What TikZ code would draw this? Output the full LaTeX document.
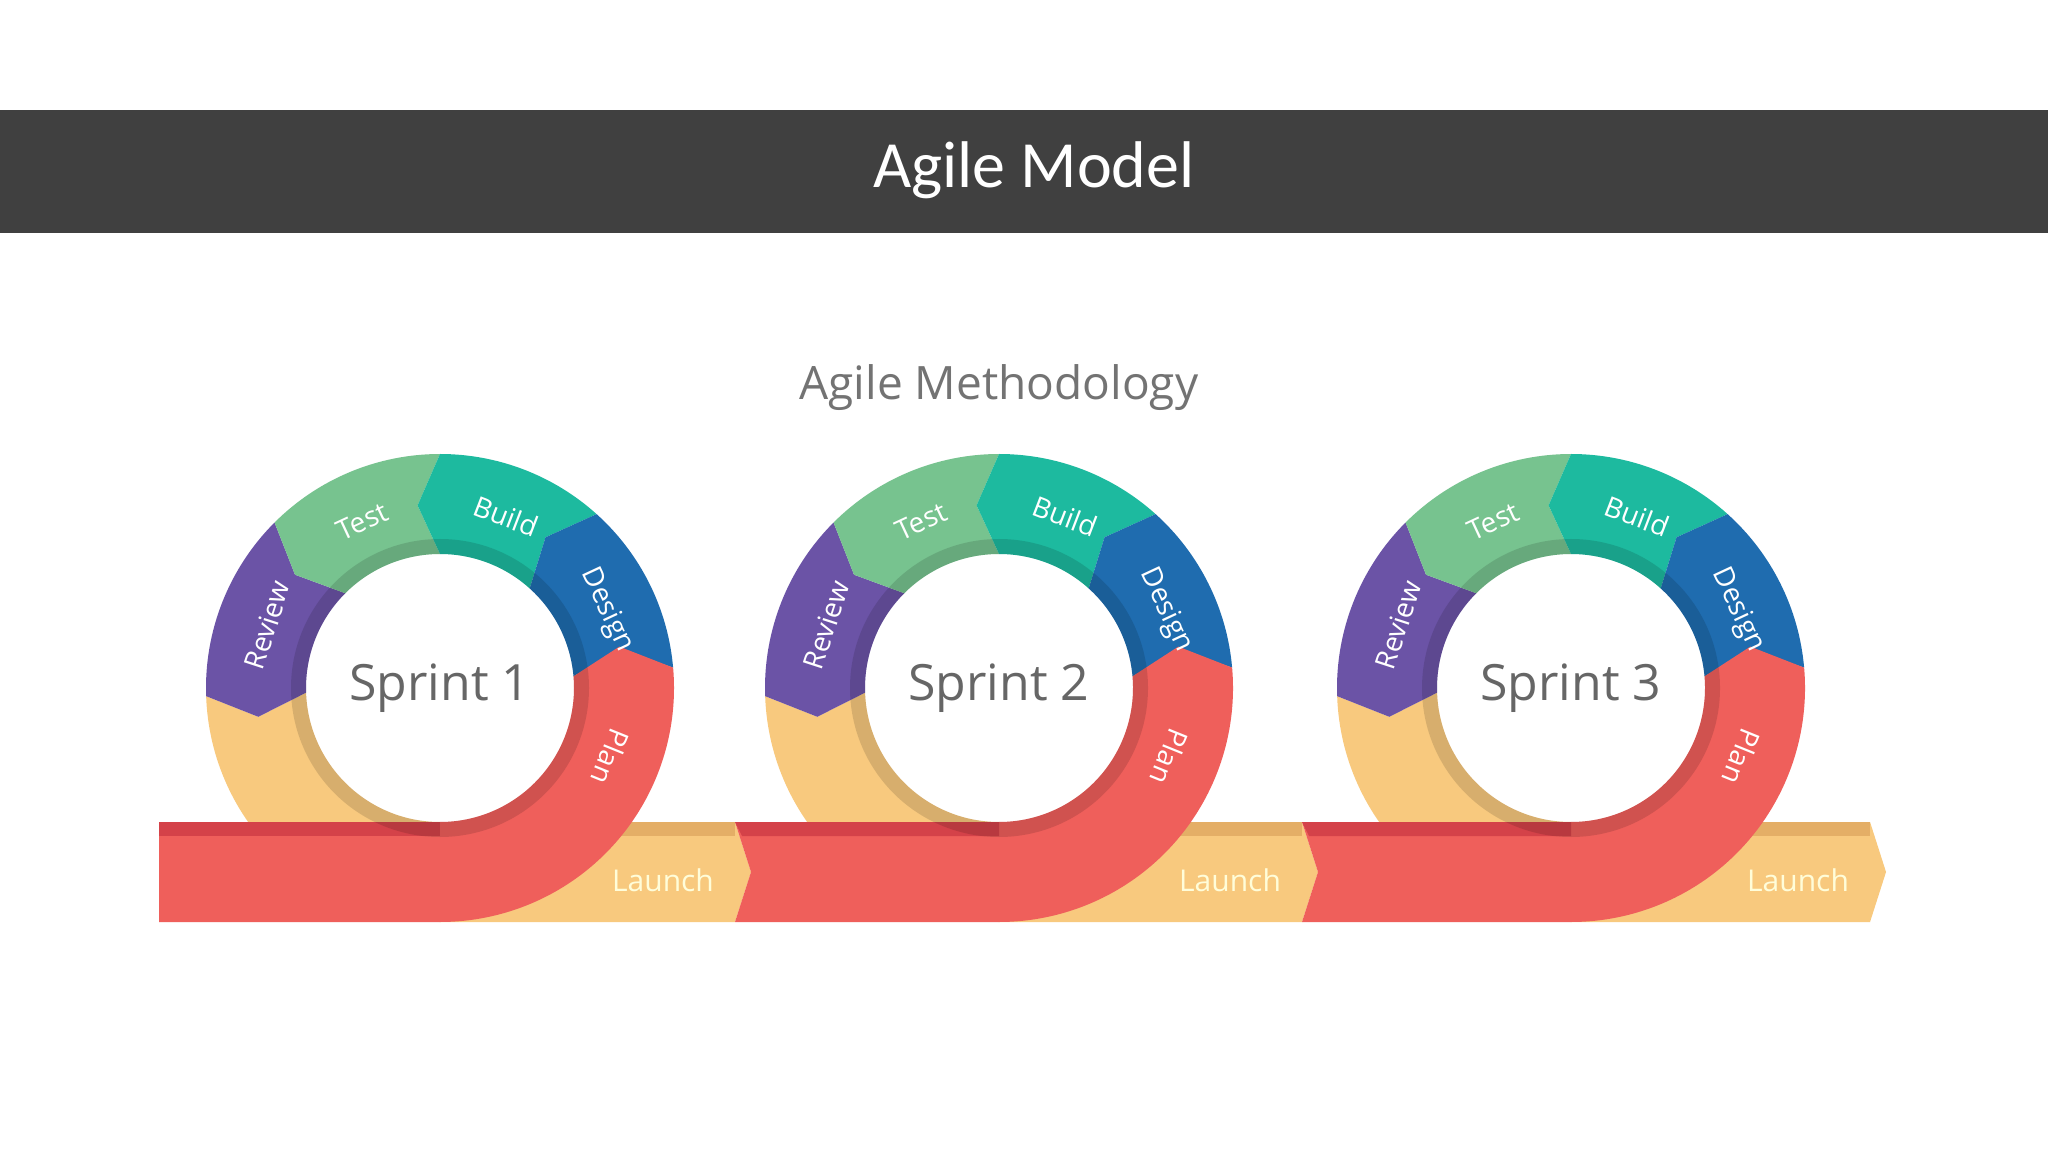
\documentclass[tikz,border=0pt]{standalone}
\usepackage{fontspec}
\setmainfont{Open Sans}
\newfontfamily\titlefont{Carlito}
\definecolor{planred}{HTML}{EF5F5B}
\definecolor{reddark}{HTML}{D44249}
\definecolor{designblue}{HTML}{1F6CAF}
\definecolor{buildteal}{HTML}{1DBA9F}
\definecolor{testgreen}{HTML}{77C38F}
\definecolor{reviewpurple}{HTML}{6B53A6}
\definecolor{yel}{HTML}{F8C97E}
\definecolor{yeldark}{HTML}{E4AE66}
\definecolor{bar}{HTML}{404040}
\tikzset{
  lbl/.style={text=white,font=\fontsize{14}{14}\selectfont},
  sprinttxt/.style={text=black!60,font=\fontsize{25}{25}\selectfont},
  launchtxt/.style={text=yellow!15!white,font=\fontsize{15}{15}\selectfont}
}
\newcommand\agseg[3]{%
  \fill[#1] (#2:234) arc[start angle=#2,end angle=#3,radius=234] -- (#3+7:184) -- (#3:134)
    arc[start angle=#3,end angle=#2,radius=134] -- (#2+7:184) -- cycle;}
% cx, n, left edge, launch base, notch (1/0)
\newcommand\agsprint[5]{%
\begin{scope}[shift={(#1,464)}]
  \fill[yel] (182:234) arc[start angle=182,end angle=270,radius=234] -- ({#4-#1},-234)
    -- ({#4-#1+16},-184) -- ({#4-#1},-134) -- (0,-134)
    arc[start angle=270,end angle=182,radius=134] -- (189:184) -- cycle;
  \fill[yeldark] (0,-134) rectangle ({#4-#1},-148);
  \agseg{reviewpurple}{135}{182}
  \agseg{testgreen}{90}{135}
  \agseg{buildteal}{48}{90}
  \agseg{designblue}{5}{48}
  \fill[planred] ({#3-#1},-234) -- ({#3-#1+16*#5},-184) -- ({#3-#1},-134) -- (0,-134)
    arc[start angle=-90,end angle=5,radius=134] -- (13:184) -- (5:234)
    arc[start angle=5,end angle=-90,radius=234] -- cycle;
  \fill[reddark] ({#3-#1},-134) -- ({#3-#1+7*#5},-148) -- (0,-148) -- (0,-134) -- cycle;
  \fill[black,opacity=0.13,even odd rule] (0,0) circle[radius=149] (0,0) circle[radius=134];
  \node[lbl,rotate=-112] (plan#2) at (-22:184) {Plan};
  \node[lbl,rotate=-65] (design#2) at (25:184) {Design};
  \node[lbl,rotate=-21] (build#2) at (69:184) {Build};
  \node[lbl,rotate=25] (test#2) at (115:184) {Test};
  \node[lbl,rotate=72] (review#2) at (160:184) {Review};
  \node[sprinttxt] (sprint#2) at (0,0) {Sprint #2};
  \node[launchtxt] (launch#2) at ({#4-#1-72},-192) {Launch};
\end{scope}}
\begin{document}
\begin{tikzpicture}[x=0.5pt,y=0.5pt]
\useasboundingbox[fill=white] (0,0) rectangle (2048,1152);
\fill[bar] (0,919) rectangle (2048,1042);
\node[text=white,font=\titlefont\fontsize{33}{33}\selectfont] (title) at (1034,982) {Agile Model};
\node[text=black!55,font=\fontsize{23}{23}\selectfont] (sub) at (999,764) {Agile Methodology};
\agsprint{440}{1}{159}{735}{0}
\agsprint{999}{2}{735}{1302}{1}
\agsprint{1571}{3}{1302}{1870}{1}
\end{tikzpicture}
\end{document}
